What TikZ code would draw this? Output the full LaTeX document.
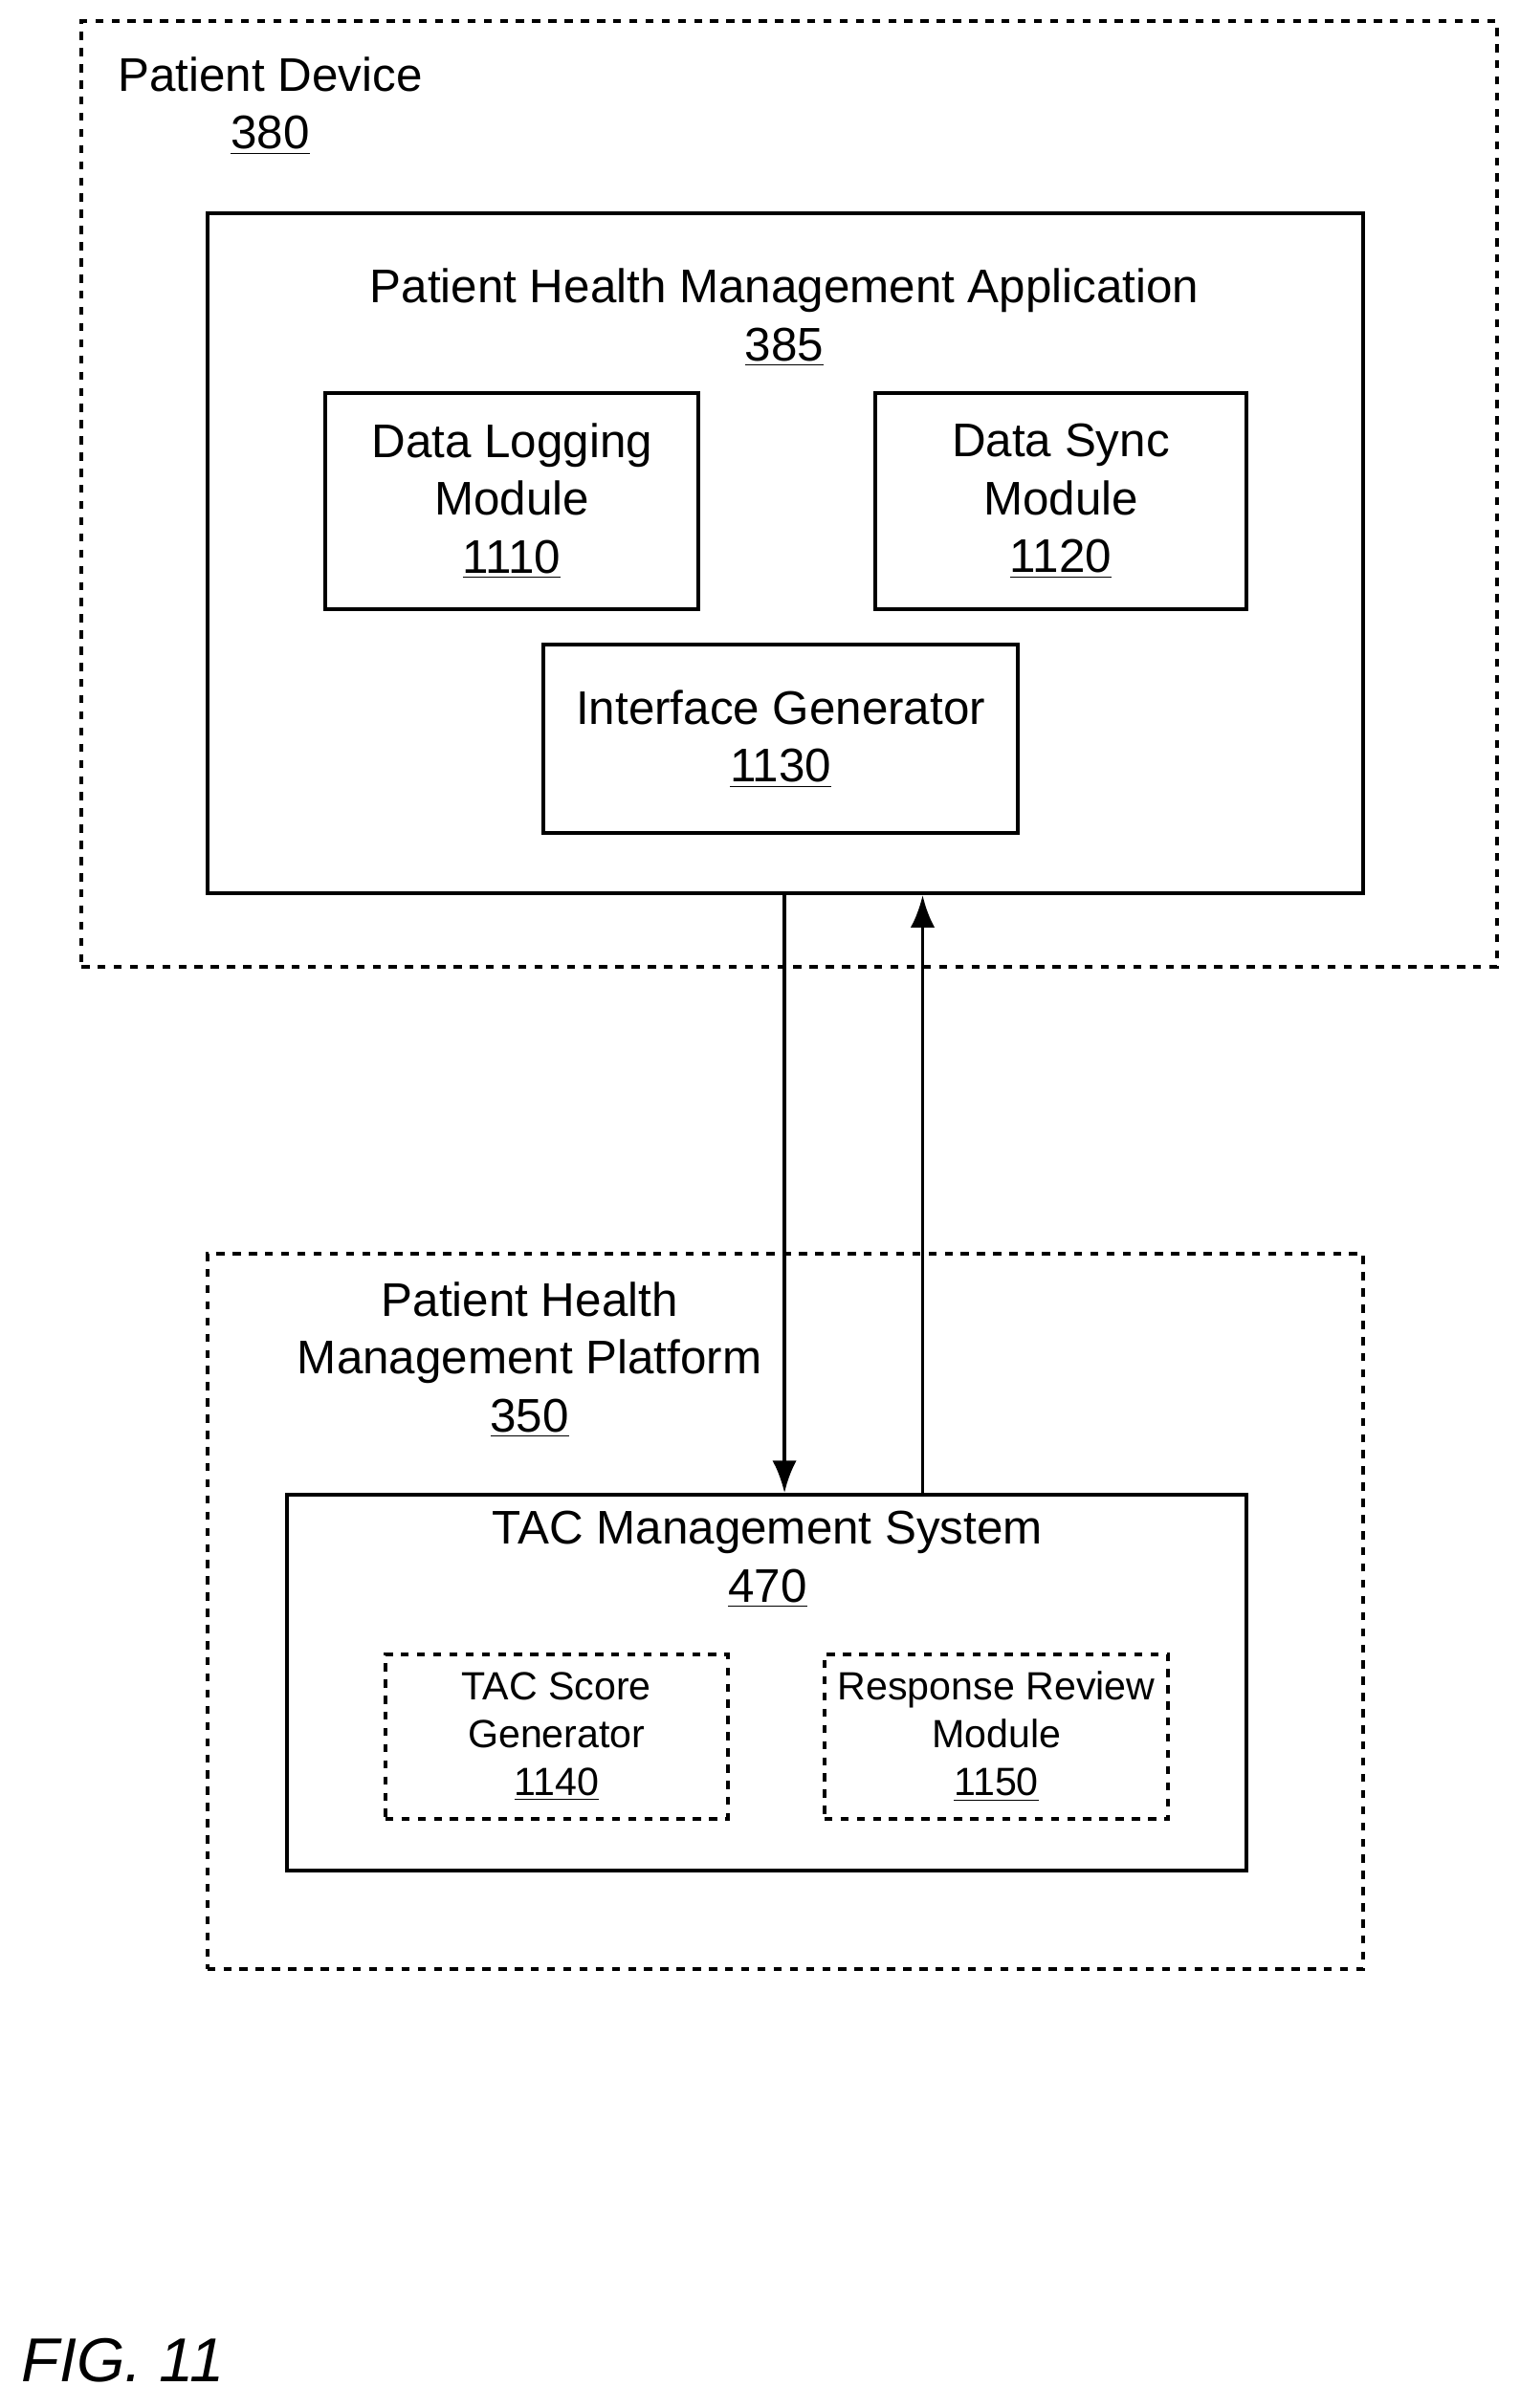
\documentclass[tikz,border=0pt]{standalone}
\usepackage{fontspec}
\setmainfont{Liberation Sans}
\usetikzlibrary{arrows.meta}
\begin{document}
\begin{tikzpicture}[x=0.02cm,y=-0.02cm,
  box/.style={draw,line width=1.4pt,rectangle,inner sep=0pt,align=center},
  dbox/.style={box,dash pattern=on 3pt off 3pt},
  big/.style={font=\fontsize{17.5}{21.5}\selectfont,align=center},
  small/.style={font=\fontsize{14.6}{17.8}\selectfont},
  arr/.style={line width=1.4pt,-{Latex[length=12pt,width=9pt]}}]
\useasboundingbox (0,0) rectangle (990,1569);
\node[dbox,minimum width=922*0.02cm,minimum height=616*0.02cm] (dev) at (514,322) {};
\node[big] (devl) at (176,69) {Patient Device\\\underline{380}};
\node[box,minimum width=753*0.02cm,minimum height=443*0.02cm] (app) at (511.5,360.5) {};
\node[big] (appl) at (511,207) {Patient Health Management Application\\\underline{385}};
\node[box,big,minimum width=243*0.02cm,minimum height=141*0.02cm] (dl) at (333.5,326.5) {Data Logging\\Module\\\underline{1110}};
\node[box,big,minimum width=242*0.02cm,minimum height=141*0.02cm] (ds) at (691,326.5) {Data Sync\\Module\\\underline{1120}};
\node[box,big,minimum width=309*0.02cm,minimum height=123*0.02cm] (ig) at (508.5,481.5) {Interface Generator\\\underline{1130}};
\node[dbox,minimum width=753*0.02cm,minimum height=466*0.02cm] (plat) at (511.5,1050) {};
\node[big] (platl) at (345,886) {Patient Health\\Management Platform\\\underline{350}};
\node[box,minimum width=625*0.02cm,minimum height=245*0.02cm] (tac) at (499.5,1096.5) {};
\node[big] (tacl) at (500,1016) {TAC Management System\\\underline{470}};
\node[dbox,small,minimum width=223*0.02cm,minimum height=107*0.02cm] (ts) at (362.5,1131.5) {TAC Score\\Generator\\\underline{1140}};
\node[dbox,small,minimum width=224*0.02cm,minimum height=107*0.02cm] (rr) at (649,1131.5) {Response Review\\Module\\\underline{1150}};
\coordinate (a1) at (app.south -| 511,0);
\coordinate (a2) at (tac.north -| 511,0);
\coordinate (b1) at (tac.north -| 601,0);
\coordinate (b2) at (app.south -| 601,0);
\draw[arr] (a1) -- (a2);
\draw[arr] (b1) -- (b2);
\node[font=\fontsize{23}{27}\itshape,anchor=west] (fig) at (8,1538) {FIG. 11};
\end{tikzpicture}
\end{document}
